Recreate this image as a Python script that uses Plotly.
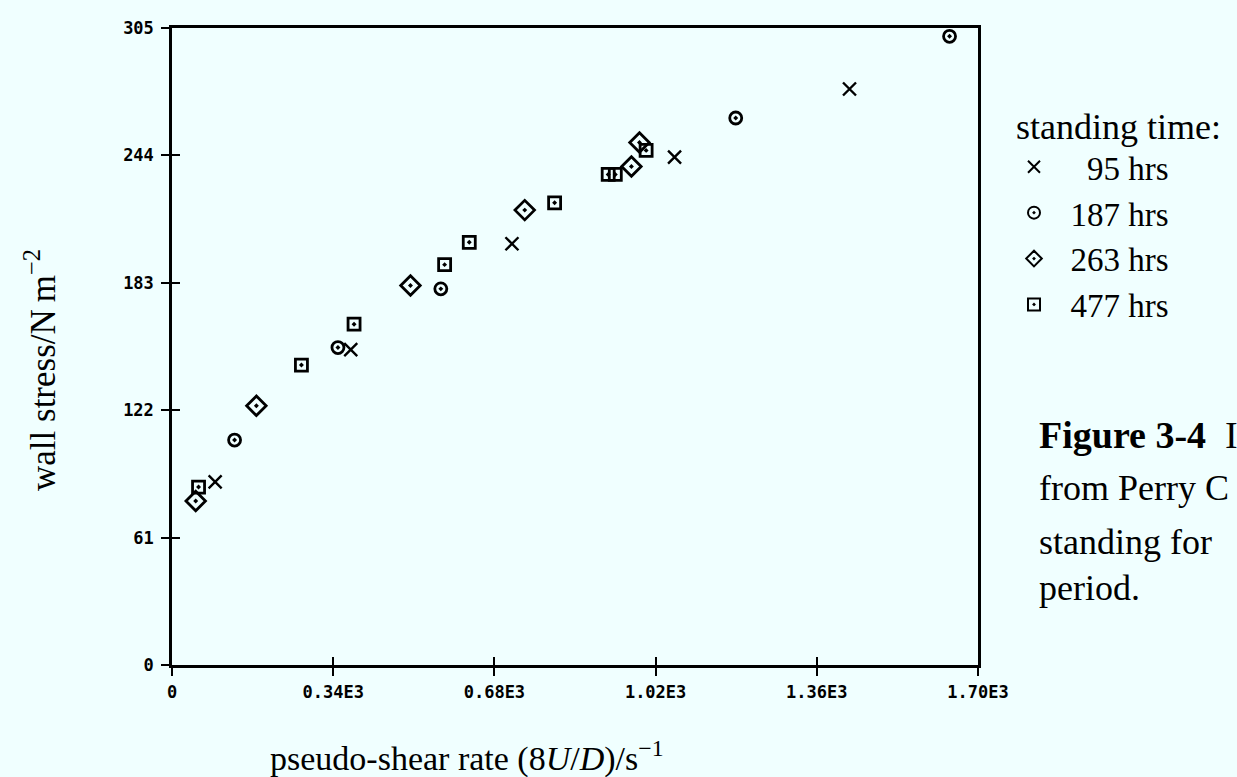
import plotly.graph_objects as go

# ---- data ----
x_95 = [91, 377, 717, 1060, 1429]
y_95 = [87.7, 151.0, 201.7, 243.2, 275.8]

x_187 = [132, 350, 567, 1189, 1640]
y_187 = [107.7, 152.0, 180.1, 261.9, 301.0]

x_263 = [50, 178, 503, 744, 969, 986]
y_263 = [78.5, 124.1, 181.7, 217.8, 238.7, 250.2]

x_477 = [56, 273, 384, 575, 627, 807, 920, 935, 1000]
y_477 = [85.2, 143.6, 163.2, 191.7, 202.4, 221.3, 234.9, 234.9, 246.4]

x_ticks = [0, 340, 680, 1020, 1360, 1700]
x_tick_labels = ["0", "0.34E3", "0.68E3", "1.02E3", "1.36E3", "1.70E3"]
y_ticks = [0, 61, 122, 183, 244, 305]
y_tick_labels = ["0", "61", "122", "183", "244", "305"]

series_names = ["\u00a0\u00a0\u00a0\u00a095 hrs", "\u00a0\u00a0187 hrs",
                "\u00a0\u00a0263 hrs", "\u00a0\u00a0477 hrs"]

BG = "#F0FFFF"
SERIF = "Liberation Serif, Times New Roman, serif"
MONO = "DejaVu Sans Mono, monospace"

W, H = 1237, 777
L, R, T, B = 172, 259, 28, 112
PW, PH = W - L - R, H - T - B


def px(xp):
    return (xp - L) / PW


def py(yp):
    return (H - B - yp) / PH


fig = go.Figure()

fig.add_trace(go.Scatter(
    x=x_95, y=y_95, mode="markers", name=series_names[0],
    marker=dict(symbol="x-thin", size=13, color="black",
                line=dict(color="black", width=2.4))))
fig.add_trace(go.Scatter(
    x=x_187, y=y_187, mode="markers", name=series_names[1],
    marker=dict(symbol="circle-open-dot", size=12, color="black",
                line=dict(color="black", width=2.8))))
fig.add_trace(go.Scatter(
    x=x_263, y=y_263, mode="markers", name=series_names[2],
    marker=dict(symbol="diamond-open-dot", size=15, color="black",
                line=dict(color="black", width=2.8))))
fig.add_trace(go.Scatter(
    x=x_477, y=y_477, mode="markers", name=series_names[3],
    marker=dict(symbol="square-open-dot", size=12, color="black",
                line=dict(color="black", width=2.8))))

# invisible trace carrying the overlay axes (inner half of the tick marks)
fig.add_trace(go.Scatter(x=[None], y=[None], xaxis="x2", yaxis="y2",
                         showlegend=False, hoverinfo="skip"))

axis_common = dict(showgrid=False, zeroline=False, linecolor="black",
                   linewidth=2.5, tickcolor="black", tickwidth=2,
                   ticklen=8)
tickfont = dict(family=MONO, size=17, color="black", weight="bold")

fig.update_layout(
    width=W, height=H,
    margin=dict(l=L, r=R, t=T, b=B),
    paper_bgcolor=BG, plot_bgcolor=BG,
    xaxis=dict(range=[0, 1700], tickvals=x_ticks, ticktext=x_tick_labels,
               ticks="outside", showline=True, mirror=True,
               tickfont=tickfont, ticklabelstandoff=2, **axis_common),
    yaxis=dict(range=[0, 305], tickvals=y_ticks, ticktext=y_tick_labels,
               ticks="outside", showline=True, mirror=True,
               tickfont=tickfont, ticklabelstandoff=4, **axis_common),
    xaxis2=dict(range=[0, 1700], tickvals=x_ticks, overlaying="x",
                anchor="y", side="bottom", ticks="inside",
                showticklabels=False, showline=False, showgrid=False,
                zeroline=False, tickcolor="black", tickwidth=2, ticklen=8),
    yaxis2=dict(range=[0, 305], tickvals=y_ticks, overlaying="y",
                anchor="x", side="left", ticks="inside",
                showticklabels=False, showline=False, showgrid=False,
                zeroline=False, tickcolor="black", tickwidth=2, ticklen=8),
    showlegend=True,
    legend=dict(
        x=px(1014), y=py(92), xanchor="left", yanchor="top",
        bgcolor="rgba(0,0,0,0)",
        font=dict(family=SERIF, size=33, color="black"),
        title=dict(text="standing time:",
                   font=dict(family=SERIF, size=36, color="black")),
        itemsizing="constant",
        tracegroupgap=0,
    ),
)

annotations = [
    dict(text="wall stress/N\u2009m<sup>\u22122</sup>", x=px(40), y=py(370),
         textangle=-90, showarrow=False, xanchor="center", yanchor="middle",
         font=dict(family=SERIF, size=35, color="black")),
    dict(text="pseudo-shear rate (8<i>U</i>/<i>D</i>)/s<sup>\u22121</sup>",
         x=px(268), y=py(756), showarrow=False, xanchor="left",
         yanchor="middle", font=dict(family=SERIF, size=34, color="black")),
    dict(text="<b>Figure 3-4</b>\u00a0\u00a0I", x=px(1037), y=py(435),
         showarrow=False, xanchor="left", yanchor="middle",
         font=dict(family=SERIF, size=38, color="black")),
    dict(text="from Perry C", x=px(1037), y=py(488), showarrow=False,
         xanchor="left", yanchor="middle",
         font=dict(family=SERIF, size=36, color="black")),
    dict(text="standing for", x=px(1037), y=py(542), showarrow=False,
         xanchor="left", yanchor="middle",
         font=dict(family=SERIF, size=36, color="black")),
    dict(text="period.", x=px(1037), y=py(588), showarrow=False,
         xanchor="left", yanchor="middle",
         font=dict(family=SERIF, size=36, color="black")),
]
for a in annotations:
    a.update(xref="paper", yref="paper")
fig.update_layout(annotations=annotations)

fig.write_html("out.html")
